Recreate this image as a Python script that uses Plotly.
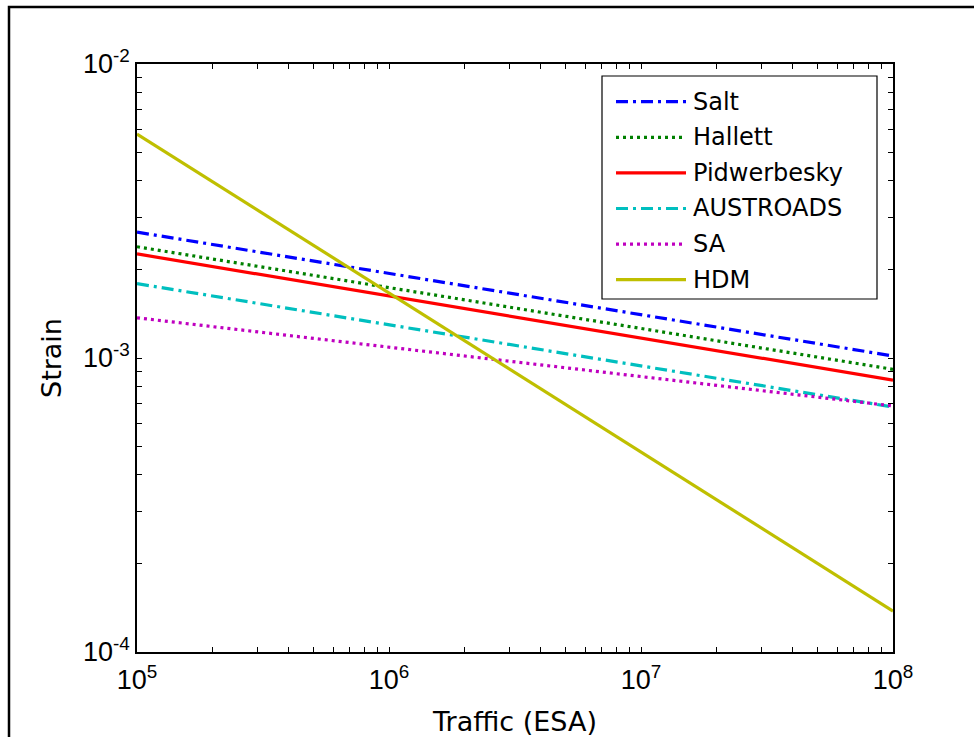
import plotly.graph_objects as go

# Data (straight lines on log-log axes)
traffic = [1e5, 1e8]
series_names = ["Salt", "Hallett", "Pidwerbesky", "AUSTROADS", "SA", "HDM"]
salt = [2.68e-3, 1.016e-3]
hallett = [2.39e-3, 9.15e-4]
pidwerbesky = [2.26e-3, 8.41e-4]
austroads = [1.79e-3, 6.81e-4]
sa = [1.37e-3, 6.87e-4]
hdm = [5.78e-3, 1.378e-4]

x_major = [1e5, 1e6, 1e7, 1e8]
x_major_text = ["10<sup>5</sup>", "10<sup>6</sup>", "10<sup>7</sup>", "10<sup>8</sup>"]
y_major = [1e-4, 1e-3, 1e-2]
y_major_text = ["10<sup>-4</sup>", "10<sup>-3</sup>", "10<sup>-2</sup>"]

def with_minors(majors, texts):
    vals, labs = [], []
    for i, m in enumerate(majors):
        vals.append(m)
        labs.append(texts[i])
        if i < len(majors) - 1:
            for k in range(2, 10):
                vals.append(m * k)
                labs.append("")
    return vals, labs

xv, xt = with_minors(x_major, x_major_text)
yv, yt = with_minors(y_major, y_major_text)

DASHDOT = "12px,5px,3px,5px"
DOT = "3px,4px"
styles = [
    dict(color="#0000FF", dash=DASHDOT),
    dict(color="#008000", dash=DOT),
    dict(color="#FF0000", dash="solid"),
    dict(color="#00BFBF", dash=DASHDOT),
    dict(color="#BF00BF", dash=DOT),
    dict(color="#BFBF00", dash="solid"),
]
values = [salt, hallett, pidwerbesky, austroads, sa, hdm]

fig = go.Figure()
for name, vals, st in zip(series_names, values, styles):
    fig.add_trace(go.Scatter(
        x=traffic, y=vals, mode="lines", name=name, showlegend=False,
        line=dict(color=st["color"], dash=st["dash"], width=3.2),
    ))

axis_common = dict(
    type="log", showgrid=False, zeroline=False, automargin=False,
    showline=True, linecolor="black", linewidth=1.5, mirror="allticks",
    ticks="inside", ticklen=5, tickwidth=1, tickcolor="black", tickangle=0,
    tickfont=dict(family="Liberation Sans, Arial", size=27, color="black"),
)

# plot area in pixels (for converting layout decorations to paper coords)
L, R, T, B = 137, 893, 64, 652
W, H = R - L, B - T

def px_x(p):
    return (p - L) / W

def px_y(p):
    return (B - p) / H

fig.update_layout(
    width=974, height=737,
    margin=dict(l=L, r=974 - R, t=T, b=737 - B),
    paper_bgcolor="white", plot_bgcolor="white",
    xaxis=dict(axis_common, range=[5, 8], tickvals=xv, ticktext=xt,
               ticklabelstandoff=3,
               title=dict(text="Traffic (ESA)", standoff=20,
                          font=dict(family="DejaVu Sans", size=27, color="black"))),
    yaxis=dict(axis_common, range=[-4, -2], tickvals=yv, ticktext=yt,
               title=dict(text="Strain", standoff=14,
                          font=dict(family="DejaVu Sans", size=27, color="black"))),
    showlegend=False,
)

# Outer figure frame (left and top edges visible)
fig.add_shape(type="rect", xref="paper", yref="paper",
              x0=px_x(9), x1=px_x(990), y0=px_y(760), y1=px_y(7),
              line=dict(color="black", width=2.5), layer="below")

# Legend box (MATLAB style)
fig.add_shape(type="rect", xref="paper", yref="paper",
              x0=px_x(602), x1=px_x(877), y0=px_y(299), y1=px_y(76),
              line=dict(color="black", width=1.2), fillcolor="white", layer="above")
row0, row_gap = 101.7, 35.6
for i, (name, st) in enumerate(zip(series_names, styles)):
    yc = row0 + i * row_gap
    fig.add_shape(type="line", xref="paper", yref="paper",
                  x0=px_x(616), x1=px_x(686), y0=px_y(yc), y1=px_y(yc),
                  line=dict(color=st["color"], dash=st["dash"], width=3.2), layer="above")
    fig.add_annotation(xref="paper", yref="paper", x=px_x(691), y=px_y(yc),
                       xanchor="left", yanchor="middle", showarrow=False,
                       text=name,
                       font=dict(family="DejaVu Sans", size=24, color="black"))

fig.write_html("out.html")
